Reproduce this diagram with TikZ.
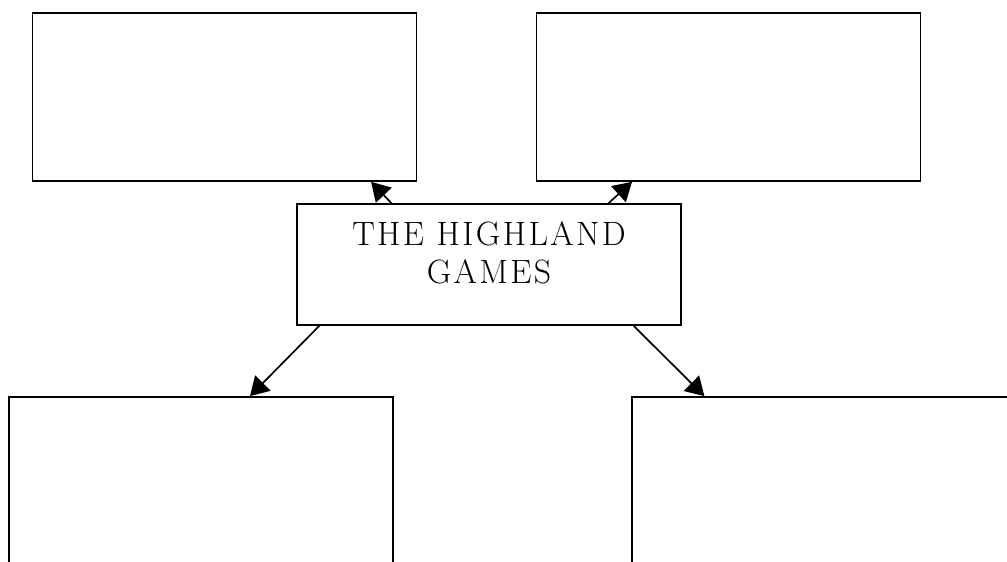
\documentclass[tikz,border=0pt]{standalone}
\usepackage{fontspec}
\newfontfamily\gamesfont[LetterSpace=7]{Latin Modern Roman}
\usepackage{tikz}
\usetikzlibrary{arrows.meta,calc,positioning}
\tikzset{%
  box/.style={draw=black,line width=1.2pt,rectangle,
              minimum width=9.6cm,minimum height=4.2cm,inner sep=0pt},
  title/.style={align=center,inner sep=0pt,font=\gamesfont\fontsize{24}{27}\selectfont},
  link/.style={-{Triangle[length=4.6mm,width=5.4mm]},line width=1.2pt},
}
\begin{document}
\begin{tikzpicture}[x=0.025cm,y=-0.025cm]
              \useasboundingbox (0,0) rectangle (1007,561);
              \clip (0,0) rectangle (1007,561);
              \node[box] (tl) at (224.5,97) {};
              \node[box] (tr) at (728.5,97) {};
              \node[box,minimum height=3.025cm] (hub) at (489,264.5) {};
              \node[title,below=4.5mm of hub.north] (name) {THE HIGHLAND\\GAMES};
              \node[box] (bl) at (201,481) {};
              \node[box] (br) at (824,481) {};
              \draw[link] ($(hub.north west)!0.247!(hub.north east)$) -- ($(tl.south west)!0.88!(tl.south east)$);
              \draw[link] ($(hub.north west)!0.81!(hub.north east)$) -- ($(tr.south west)!0.25!(tr.south east)$);
              \draw[link] ($(hub.south west)!0.06!(hub.south east)$) -- ($(bl.north west)!0.627!(bl.north east)$);
              \draw[link] ($(hub.south west)!0.875!(hub.south east)$) -- ($(br.north west)!0.19!(br.north east)$);
\end{tikzpicture}
\end{document}
